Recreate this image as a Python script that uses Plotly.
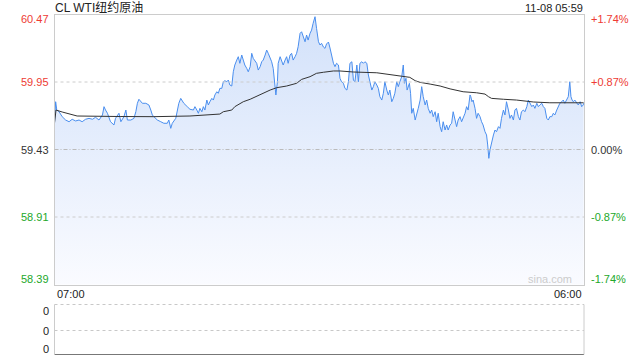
import plotly.graph_objects as go

# ---------------- data ----------------
title_text = "CL WTI纽约原油"
timestamp_text = "11-08 05:59"
watermark = "sina.com"

prev_close = 59.43
price_ticks = [60.47, 59.95, 59.43, 58.91, 58.39]
pct_labels = ["+1.74%", "+0.87%", "0.00%", "-0.87%", "-1.74%"]
time_tick_labels = ["07:00", "06:00"]
time_tick_minutes = [0, 1380]
vol_tick_labels = ["0", "0", "0"]

# minutes after 07:00
minutes = [0, 3, 6, 12, 20, 29, 38, 46, 55, 64, 72, 81, 90, 99, 107, 116, 125, 129, 133, 138,
           146, 155, 159, 168, 173, 181, 186, 190, 199, 207, 212, 216, 220, 229, 238, 246, 251, 255, 259, 268,
           277, 285, 294, 298, 303, 307, 316, 324, 329, 337, 346, 353, 362, 366, 371, 375, 379, 384, 388, 392,
           397, 401, 405, 410, 414, 418, 423, 427, 431, 436, 440, 444, 449, 453, 457, 462, 466, 470, 475, 479,
           483, 488, 492, 496, 501, 505, 510, 514, 518, 523, 527, 531, 536, 540, 544, 549, 553, 557, 562, 566,
           570, 575, 577, 581, 583, 588, 592, 596, 601, 605, 609, 614, 618, 622, 627, 631, 635, 640, 644, 648,
           653, 657, 661, 666, 670, 674, 679, 683, 688, 692, 696, 701, 705, 709, 714, 718, 722, 727, 731, 735,
           740, 744, 748, 753, 757, 762, 766, 770, 775, 779, 783, 788, 792, 796, 801, 805, 809, 814, 818, 822,
           827, 831, 835, 840, 844, 848, 853, 857, 861, 866, 870, 874, 879, 883, 887, 892, 896, 900, 905, 909,
           912, 916, 919, 925, 928, 931, 935, 940, 944, 948, 953, 957, 961, 966, 970, 974, 979, 983, 987, 992,
           996, 1000, 1005, 1009, 1013, 1018, 1022, 1026, 1031, 1035, 1039, 1044, 1048, 1052, 1057, 1061, 1065, 1070, 1074, 1078,
           1083, 1085, 1088, 1091, 1096, 1100, 1104, 1109, 1113, 1117, 1122, 1126, 1129, 1132, 1135, 1139, 1144, 1148, 1152, 1157,
           1161, 1165, 1170, 1174, 1178, 1183, 1187, 1191, 1196, 1200, 1204, 1209, 1213, 1217, 1222, 1226, 1231, 1235, 1239, 1244,
           1248, 1252, 1257, 1261, 1265, 1270, 1274, 1278, 1283, 1287, 1291, 1296, 1300, 1304, 1309, 1313, 1317, 1322, 1326, 1330,
           1335, 1339, 1343, 1346, 1349, 1352, 1356, 1361, 1365, 1370, 1374, 1378, 1379]

prices = [59.634, 59.798, 59.734, 59.721, 59.683, 59.657, 59.644, 59.663, 59.650, 59.657, 59.644, 59.663, 59.670, 59.663, 59.678, 59.657, 59.696, 59.760, 59.734, 59.709,
          59.644, 59.619, 59.670, 59.709, 59.644, 59.683, 59.734, 59.657, 59.657, 59.670, 59.721, 59.786, 59.817, 59.786, 59.786, 59.773, 59.734, 59.696, 59.683, 59.657,
          59.644, 59.632, 59.632, 59.657, 59.593, 59.632, 59.670, 59.786, 59.824, 59.786, 59.760, 59.740, 59.734, 59.760, 59.734, 59.709, 59.747, 59.721, 59.760, 59.734,
          59.811, 59.773, 59.798, 59.824, 59.811, 59.850, 59.875, 59.863, 59.901, 59.901, 59.952, 59.960, 59.952, 59.965, 59.927, 59.919, 60.029, 60.081, 60.119, 60.145,
          60.094, 60.158, 60.119, 60.081, 60.055, 60.029, 60.068, 60.171, 60.132, 60.106, 60.094, 60.042, 60.068, 60.106, 60.119, 60.158, 60.196, 60.171, 60.132, 60.106,
          60.055, 59.927, 59.850, 59.952, 60.094, 60.145, 60.106, 60.081, 60.119, 60.145, 60.094, 60.158, 60.171, 60.119, 60.145, 60.171, 60.222, 60.325, 60.337, 60.299,
          60.260, 60.312, 60.273, 60.325, 60.350, 60.402, 60.453, 60.363, 60.260, 60.235, 60.248, 60.219, 60.209, 60.243, 60.258, 60.212, 60.158, 60.094, 60.068, 60.094,
          60.081, 59.979, 59.952, 59.940, 59.901, 59.888, 59.952, 60.094, 60.106, 59.965, 59.952, 60.081, 59.952, 60.094, 60.106, 60.094, 60.106, 60.094, 60.004, 59.940,
          59.888, 59.914, 59.952, 59.927, 59.901, 59.837, 59.811, 59.863, 59.952, 59.888, 59.850, 59.888, 59.798, 59.824, 59.863, 59.952, 59.914, 59.952, 59.991, 60.081,
          59.940, 59.979, 59.888, 59.940, 59.863, 59.709, 59.747, 59.657, 59.696, 59.747, 59.811, 59.914, 59.837, 59.773, 59.811, 59.747, 59.709, 59.734, 59.683, 59.721,
          59.644, 59.709, 59.606, 59.567, 59.644, 59.580, 59.619, 59.580, 59.619, 59.632, 59.721, 59.644, 59.606, 59.657, 59.683, 59.644, 59.670, 59.709, 59.760, 59.734,
          59.850, 59.837, 59.798, 59.811, 59.747, 59.670, 59.709, 59.683, 59.644, 59.619, 59.567, 59.542, 59.465, 59.362, 59.427, 59.491, 59.542, 59.580, 59.567, 59.606,
          59.593, 59.670, 59.734, 59.696, 59.798, 59.734, 59.670, 59.696, 59.657, 59.734, 59.747, 59.683, 59.657, 59.721, 59.734, 59.721, 59.760, 59.811, 59.786, 59.760,
          59.773, 59.747, 59.786, 59.760, 59.773, 59.786, 59.760, 59.747, 59.670, 59.657, 59.683, 59.683, 59.709, 59.696, 59.734, 59.760, 59.786, 59.798, 59.811, 59.786,
          59.811, 59.837, 59.952, 59.837, 59.811, 59.798, 59.811, 59.786, 59.773, 59.798, 59.760, 59.773, 59.786]

avg_minutes = [0, 4, 20, 40, 59, 171, 259, 353, 431, 440, 462, 470, 492, 510, 527, 544, 562, 579, 605, 631,
               644, 666, 683, 701, 727, 744, 779, 840, 866, 900, 926, 940, 953, 979, 1005, 1031, 1065, 1100, 1122, 1131,
               1139, 1170, 1204, 1248, 1291, 1379]
avg_prices = [59.634, 59.734, 59.719, 59.700, 59.688, 59.684, 59.683, 59.688, 59.703, 59.721, 59.734, 59.760, 59.798, 59.817, 59.842, 59.863, 59.888, 59.906, 59.919, 59.940,
              59.970, 59.991, 60.017, 60.025, 60.035, 60.035, 60.027, 60.021, 60.009, 59.998, 59.986, 59.960, 59.947, 59.934, 59.919, 59.897, 59.875, 59.867, 59.857, 59.837,
              59.824, 59.817, 59.811, 59.796, 59.790, 59.790]

# ---------------- layout constants ----------------
W, H = 640, 360
PL, PR = 54.5, 584.0          # plot left / right (px)
PT, PB = 14.5, 284.5          # main plot top / bottom (px)
VT, VM, VB = 304.5, 330.5, 354.5  # volume panel top / mid / bottom (px)

RED = "#ee3b33"
GREEN = "#22a82a"
BLACK = "#333333"
FONT = "Liberation Sans, Arial, Noto Sans CJK SC, sans-serif"


def px(x):
    return x / W


def py(y):
    return 1 - y / H


def label_color(v):
    if v > prev_close + 1e-9:
        return RED
    if v < prev_close - 1e-9:
        return GREEN
    return BLACK


fig = go.Figure()

fig.add_trace(go.Scatter(
    x=minutes, y=prices, mode="lines",
    line=dict(color="#4a8eee", width=1),
    fill="tozeroy",
    fillgradient=dict(type="vertical", start=price_ticks[-1], stop=price_ticks[0],
                      colorscale=[[0, "rgb(250,251,255)"], [1, "rgb(210,225,250)"]]),
    hoverinfo="skip", showlegend=False,
))
fig.add_trace(go.Scatter(
    x=avg_minutes, y=avg_prices, mode="lines",
    line=dict(color="#333333", width=1),
    hoverinfo="skip", showlegend=False,
))

shapes = []
# horizontal grid lines inside main plot
for v in price_ticks[1:-1]:
    dash = "4px,2px,1px,2px" if abs(v - prev_close) < 1e-9 else "dot"
    col = "#bbbbbb" if abs(v - prev_close) < 1e-9 else "#cccccc"
    shapes.append(dict(type="line", xref="paper", yref="y", x0=px(PL), x1=px(PR), y0=v, y1=v,
                       line=dict(color=col, width=1, dash=dash), layer="above"))

# volume panel frame
shapes.append(dict(type="line", xref="paper", yref="paper", x0=px(PL), x1=px(PR), y0=py(VT), y1=py(VT),
                   line=dict(color="#c8c8c8", width=1, dash="dot")))
shapes.append(dict(type="line", xref="paper", yref="paper", x0=px(PL), x1=px(PR), y0=py(VM), y1=py(VM),
                   line=dict(color="#c8c8c8", width=1, dash="dot")))
shapes.append(dict(type="line", xref="paper", yref="paper", x0=px(PL), x1=px(PR), y0=py(VB), y1=py(VB),
                   line=dict(color="#777777", width=1)))
shapes.append(dict(type="line", xref="paper", yref="paper", x0=px(PL), x1=px(PL), y0=py(VT), y1=py(VB),
                   line=dict(color="#cccccc", width=1)))
shapes.append(dict(type="line", xref="paper", yref="paper", x0=px(PR), x1=px(PR), y0=py(VT), y1=py(VB),
                   line=dict(color="#cccccc", width=1)))

annotations = []
n = len(price_ticks)
for i, (v, pl) in enumerate(zip(price_ticks, pct_labels)):
    shift = 0
    if i == 0:
        shift = -5
    elif i == n - 1:
        shift = 6
    c = label_color(v)
    annotations.append(dict(x=px(51), xref="paper", y=v, yref="y", yshift=shift, text=f"{v:.2f}",
                            xanchor="right", yanchor="middle", showarrow=False,
                            font=dict(size=11, color=c, family=FONT)))
    annotations.append(dict(x=px(589), xref="paper", y=v, yref="y", yshift=shift, text=pl,
                            xanchor="left", yanchor="middle", showarrow=False,
                            font=dict(size=11, color=c, family=FONT)))

# time tick labels
annotations.append(dict(x=time_tick_minutes[0], xref="x", y=py(293.5), yref="paper", text=time_tick_labels[0],
                        xanchor="left", yanchor="middle", showarrow=False,
                        font=dict(size=11, color="#222222", family=FONT)))
annotations.append(dict(x=time_tick_minutes[1], xref="x", y=py(293.5), yref="paper", text=time_tick_labels[1],
                        xanchor="right", yanchor="middle", showarrow=False,
                        font=dict(size=11, color="#222222", family=FONT)))

# volume labels
for lab, yy in zip(vol_tick_labels, [VT + 6.5, VM, VB - 5.5]):
    annotations.append(dict(x=px(51), xref="paper", y=py(yy), yref="paper", text=lab,
                            xanchor="right", yanchor="middle", showarrow=False,
                            font=dict(size=11, color="#222222", family=FONT)))

# title & timestamp
annotations.append(dict(x=px(53), xref="paper", y=py(7), yref="paper", text=title_text,
                        xanchor="left", yanchor="middle", showarrow=False,
                        font=dict(size=12, color="#222222", family=FONT)))
annotations.append(dict(x=px(585), xref="paper", y=py(7.5), yref="paper", text=timestamp_text,
                        xanchor="right", yanchor="middle", showarrow=False,
                        font=dict(size=11, color="#222222", family=FONT)))
# watermark
annotations.append(dict(x=px(574), xref="paper", y=py(279), yref="paper", text=watermark,
                        xanchor="right", yanchor="middle", showarrow=False,
                        font=dict(size=11, color="#cccccc", family=FONT)))

fig.update_layout(
    width=W, height=H,
    margin=dict(l=0, r=0, t=0, b=0),
    paper_bgcolor="white", plot_bgcolor="white",
    showlegend=False,
    xaxis=dict(domain=[px(PL), px(PR)], range=[0, 1380], showgrid=False, zeroline=False,
               showticklabels=False, ticks="", showline=True, mirror=True, linecolor="#cccccc", linewidth=1,
               fixedrange=True),
    yaxis=dict(domain=[py(PB), py(PT)], range=[price_ticks[-1], price_ticks[0]], showgrid=False, zeroline=False,
               showticklabels=False, ticks="", showline=True, mirror=True, linecolor="#cccccc", linewidth=1,
               fixedrange=True),
    shapes=shapes,
    annotations=annotations,
    hovermode=False,
)

fig.write_html("out.html", config={"displayModeBar": False, "staticPlot": True})
